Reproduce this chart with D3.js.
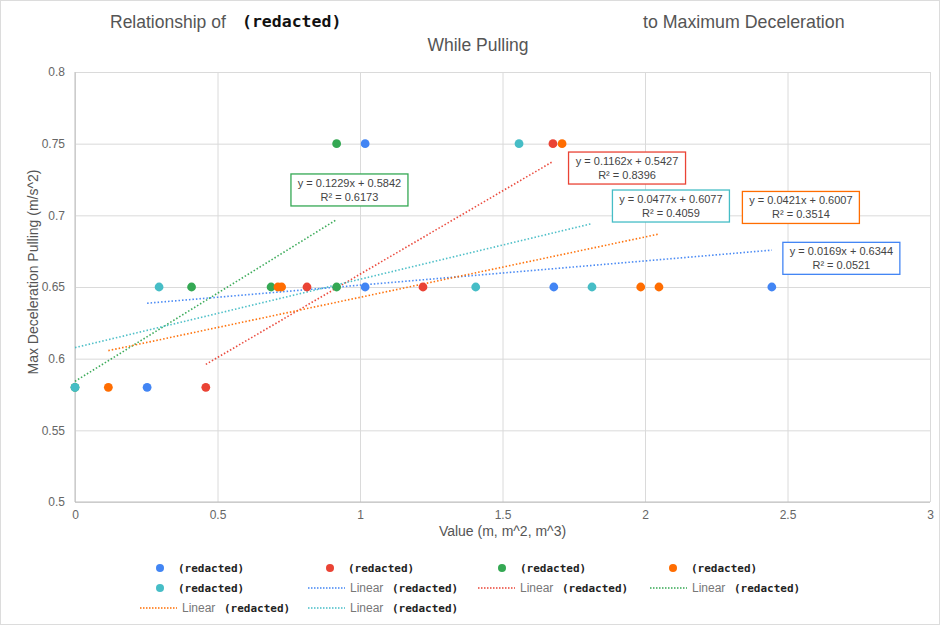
<!DOCTYPE html>
<html>
<head>
<meta charset="utf-8">
<script src="https://cdn.jsdelivr.net/npm/d3@7/dist/d3.min.js"></script>
<style>
  html, body { margin: 0; padding: 0; background: #fff; }
  svg { display: block; }
</style>
</head>
<body>
<svg id="chart" width="940" height="625"></svg>
<script>
// ---------------- DATA ----------------
const seriesNames = ["(redacted)", "(redacted)", "(redacted)", "(redacted)", "(redacted)"];
const seriesColors = ["#4285F4", "#EA4335", "#34A853", "#FF6D01", "#46BDC6"];

const blueX  = [0.253, 1.018, 1.018, 1.680, 2.445];
const blueY  = [0.58, 0.75, 0.65, 0.65, 0.65];
const redX   = [0.459, 0.814, 1.221, 1.677];
const redY   = [0.58, 0.65, 0.65, 0.75];
const greenX = [0.0, 0.409, 0.688, 0.918, 0.918];
const greenY = [0.58, 0.65, 0.65, 0.65, 0.75];
const orangeX = [0.117, 0.712, 0.725, 1.709, 1.985, 2.049];
const orangeY = [0.58, 0.65, 0.65, 0.75, 0.65, 0.65];
const tealX  = [0.0, 0.295, 1.406, 1.558, 1.814];
const tealY  = [0.58, 0.65, 0.65, 0.75, 0.65];

const slopes     = [0.0169, 0.1162, 0.1229, 0.0421, 0.0477];
const intercepts = [0.6344, 0.5427, 0.5842, 0.6007, 0.6077];
const rSquared   = ["0.0521", "0.8396", "0.6173", "0.3514", "0.4059"];
const eqTexts    = ["y = 0.0169x + 0.6344", "y = 0.1162x + 0.5427", "y = 0.1229x + 0.5842",
                    "y = 0.0421x + 0.6007", "y = 0.0477x + 0.6077"];

const xTicks = [0, 0.5, 1, 1.5, 2, 2.5, 3];
const yTicks = [0.5, 0.55, 0.6, 0.65, 0.7, 0.75, 0.8];

// label anchor (data coords) for each trendline equation box
const labelAnchorX = [2.689, 1.937, 0.963, 2.547, 2.091];
const labelAnchorY = [0.670, 0.733, 0.7177, 0.7055, 0.7065];

// ---------------- LAYOUT ----------------
const svg = d3.select("#chart");
const W = 940, H = 625;
const plot = { left: 75, right: 930, top: 72, bottom: 502 };

const x = d3.scaleLinear().domain([0, 3]).range([plot.left, plot.right]);
const y = d3.scaleLinear().domain([0.5, 0.8]).range([plot.bottom, plot.top]);

const sansFont = "'Liberation Sans', Arial, sans-serif";
const monoFont = "'DejaVu Sans Mono', monospace";

// outer border
svg.append("rect").attr("x", 0.5).attr("y", 0.5).attr("width", W - 1).attr("height", H - 1)
  .attr("fill", "#fff").attr("stroke", "#dcdcdc");

// gridlines via axes
const gy = svg.append("g").attr("transform", `translate(${plot.left},0)`)
  .call(d3.axisLeft(y).tickValues(yTicks).tickSize(-(plot.right - plot.left)).tickFormat(d => String(+d.toFixed(2))));
gy.select(".domain").remove();
gy.selectAll(".tick line").attr("stroke", "#dadada").attr("stroke-width", 1);
gy.selectAll(".tick text").attr("x", -10).attr("fill", "#666").attr("font-size", 12).attr("font-family", sansFont);

const gx = svg.append("g").attr("transform", `translate(0,${plot.bottom})`)
  .call(d3.axisBottom(x).tickValues(xTicks).tickSize(-(plot.bottom - plot.top)).tickFormat(d => String(d)));
gx.select(".domain").remove();
gx.selectAll(".tick line").attr("stroke", "#dadada").attr("stroke-width", 1);
gx.selectAll(".tick text").attr("y", 8).attr("fill", "#666").attr("font-size", 12).attr("font-family", sansFont);

// axis baselines
svg.append("line").attr("x1", plot.left).attr("x2", plot.right).attr("y1", y(0.5)).attr("y2", y(0.5))
  .attr("stroke", "#bdbdbd");
svg.append("line").attr("x1", x(0)).attr("x2", x(0)).attr("y1", plot.top).attr("y2", plot.bottom)
  .attr("stroke", "#bdbdbd");

// axis titles
svg.append("text").attr("x", (plot.left + plot.right) / 2).attr("y", 536)
  .attr("text-anchor", "middle").attr("font-size", 14).attr("fill", "#555").attr("font-family", sansFont)
  .text("Value (m, m^2, m^3)");
svg.append("text").attr("transform", `translate(38,272) rotate(-90)`)
  .attr("text-anchor", "middle").attr("font-size", 14).attr("fill", "#555").attr("font-family", sansFont)
  .text("Max Deceleration Pulling (m/s^2)");

// title
const title = svg.append("g").attr("font-family", sansFont).attr("fill", "#555");
title.append("text").attr("x", 110).attr("y", 28).attr("font-size", 17.5).attr("fill", "#555").text("Relationship of");
title.append("text").attr("x", 242).attr("y", 27).attr("font-size", 16.5).attr("font-weight", "bold")
  .attr("font-family", monoFont).attr("fill", "#111").text("(redacted)");
title.append("text").attr("x", 643).attr("y", 28).attr("font-size", 17.8).attr("fill", "#555").text("to Maximum Deceleration");
title.append("text").attr("x", 478).attr("y", 51).attr("text-anchor", "middle").attr("font-size", 17.5).attr("fill", "#555").text("While Pulling");

// series
const seriesX = [blueX, redX, greenX, orangeX, tealX];
const seriesY = [blueY, redY, greenY, orangeY, tealY];

// trendlines
const trendG = svg.append("g");
seriesX.forEach((xs, i) => {
  const x0 = d3.min(xs), x1 = d3.max(xs);
  trendG.append("line")
    .attr("x1", x(x0)).attr("y1", y(slopes[i] * x0 + intercepts[i]))
    .attr("x2", x(x1)).attr("y2", y(slopes[i] * x1 + intercepts[i]))
    .attr("stroke", seriesColors[i]).attr("stroke-width", 1.6)
    .attr("stroke-dasharray", "1.5,2").attr("opacity", 0.95);
});

// points (draw order: blue, red, green, orange, teal)
const ptG = svg.append("g");
seriesX.forEach((xs, i) => {
  ptG.selectAll(null).data(xs.map((v, j) => [v, seriesY[i][j]])).enter().append("circle")
    .attr("cx", d => x(d[0])).attr("cy", d => y(d[1])).attr("r", 4.4)
    .attr("fill", seriesColors[i]);
});

// equation boxes
const boxW = 117, boxH = 32;
seriesX.forEach((xs, i) => {
  const cx = x(labelAnchorX[i]), cy = y(labelAnchorY[i]);
  const g = svg.append("g");
  g.append("rect").attr("x", cx - boxW / 2).attr("y", cy - boxH / 2).attr("width", boxW).attr("height", boxH)
    .attr("fill", "#fff").attr("stroke", seriesColors[i]).attr("stroke-width", 1.3);
  g.append("text").attr("x", cx).attr("y", cy - 3).attr("text-anchor", "middle")
    .attr("font-size", 11).attr("fill", "#444").attr("font-family", sansFont).text(eqTexts[i]);
  g.append("text").attr("x", cx).attr("y", cy + 11).attr("text-anchor", "middle")
    .attr("font-size", 11).attr("fill", "#444").attr("font-family", sansFont).text("R² = " + rSquared[i]);
});

// legend
const legend = svg.append("g");
const dotItems = [
  { s: 0, cx: 160, cy: 568 },
  { s: 1, cx: 330, cy: 568 },
  { s: 2, cx: 502, cy: 568 },
  { s: 3, cx: 673, cy: 568 },
  { s: 4, cx: 160, cy: 588 }
];
dotItems.forEach(d => {
  legend.append("circle").attr("cx", d.cx).attr("cy", d.cy).attr("r", 4).attr("fill", seriesColors[d.s]);
  legend.append("text").attr("x", d.cx + 18).attr("y", d.cy + 4).attr("font-size", 11).attr("font-weight", "bold")
    .attr("font-family", monoFont).attr("fill", "#222").text(seriesNames[d.s]);
});
const lineItems = [
  { s: 0, lx: 308, cy: 588 },
  { s: 1, lx: 478, cy: 588 },
  { s: 2, lx: 650, cy: 588 },
  { s: 3, lx: 140, cy: 608 },
  { s: 4, lx: 308, cy: 608 }
];
lineItems.forEach(d => {
  legend.append("line").attr("x1", d.lx).attr("x2", d.lx + 37).attr("y1", d.cy).attr("y2", d.cy)
    .attr("stroke", seriesColors[d.s]).attr("stroke-width", 1.3).attr("stroke-dasharray", "1.5,1.5");
  legend.append("text").attr("x", d.lx + 42).attr("y", d.cy + 4).attr("font-size", 12)
    .attr("font-family", sansFont).attr("fill", "#777").text("Linear");
  legend.append("text").attr("x", d.lx + 84).attr("y", d.cy + 4).attr("font-size", 11).attr("font-weight", "bold")
    .attr("font-family", monoFont).attr("fill", "#222").text(seriesNames[d.s]);
});
</script>
</body>
</html>
